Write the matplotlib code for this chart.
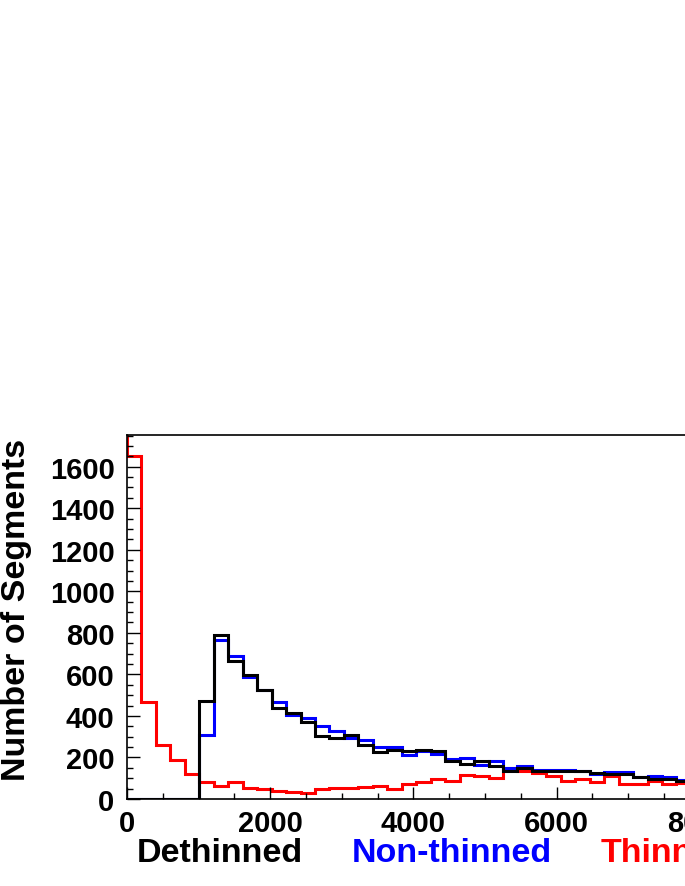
# Dethinned / non-thinned / thinned segment counts

import numpy as np
import matplotlib
matplotlib.use("Agg")
import matplotlib.pyplot as plt
from matplotlib.ticker import MultipleLocator

plt.rcParams['font.family'] = ['Liberation Sans', 'DejaVu Sans']
plt.rcParams['font.weight'] = 'bold'

# histogram binning (bins of ~202, starting at 0)
bin_width = 202
n_bins = 39

# counts per bin
dethinned = [0, 0, 0, 0, 2, 470, 791, 663, 597, 525, 437, 413, 372, 302, 296, 306,
             258, 226, 238, 232, 234, 229, 181, 168, 181, 157, 137, 148, 136, 136,
             136, 136, 124, 120, 120, 104, 96, 96, 88]
non_thinned = [0, 0, 0, 0, 0, 308, 767, 687, 586, 527, 465, 404, 390, 350, 326, 292,
               284, 250, 250, 212, 229, 215, 193, 196, 166, 181, 150, 157, 140, 140,
               139, 136, 118, 128, 131, 108, 112, 104, 92]
thinned = [1650, 465, 260, 186, 122, 80, 64, 83, 53, 48, 40, 32, 30, 46, 53, 53,
           58, 61, 48, 72, 82, 94, 88, 116, 113, 100, 150, 136, 125, 113,
           88, 96, 80, 112, 74, 74, 88, 70, 78]
thinned_underflow = 2400  # bin below 0, off the top of the frame

edges = np.arange(n_bins + 1) * bin_width
edges_thin = np.arange(-1, n_bins + 1) * bin_width

fig = plt.figure(figsize=(6.85, 8.87), dpi=100)
ax = fig.add_axes([127 / 685, 87 / 887, 723 / 685, 364 / 887])

ax.stairs([thinned_underflow] + thinned, edges_thin, baseline=None, color="#ff0000", linewidth=2.2)
ax.stairs(non_thinned, edges, baseline=None, color="#0000ff", linewidth=2.2)
ax.stairs(dethinned, edges, baseline=None, color="black", linewidth=2.2)

ax.set_xlim(0, 10100)
ax.set_ylim(0, 1752.6)

ax.xaxis.set_major_locator(MultipleLocator(2000))
ax.xaxis.set_minor_locator(MultipleLocator(500))
ax.yaxis.set_major_locator(MultipleLocator(200))
ax.yaxis.set_minor_locator(MultipleLocator(50))
ax.tick_params(which='both', direction='in', top=False, right=False, width=1, labelsize=21)
ax.tick_params(which='major', length=9)
ax.tick_params(which='minor', length=4.5)
ax.tick_params(axis='y', pad=9)
ax.tick_params(axis='x', pad=7)
for s in ax.spines.values():
    s.set_linewidth(1.2)

fig.text(17 / 685, 1 - 610 / 887, "Number of Segments", rotation=90,
         ha='center', va='center', fontsize=24.5, fontweight='bold')

fig.text(137 / 685, 1 - 862 / 887, "Dethinned", color="black", fontsize=24.5, fontweight='bold', va='baseline')
fig.text(352 / 685, 1 - 862 / 887, "Non-thinned", color="#0000ff", fontsize=24.5, fontweight='bold', va='baseline')
fig.text(601 / 685, 1 - 862 / 887, "Thinned", color="#ff0000", fontsize=24.5, fontweight='bold', va='baseline')

fig.savefig("out.png", dpi=100)
